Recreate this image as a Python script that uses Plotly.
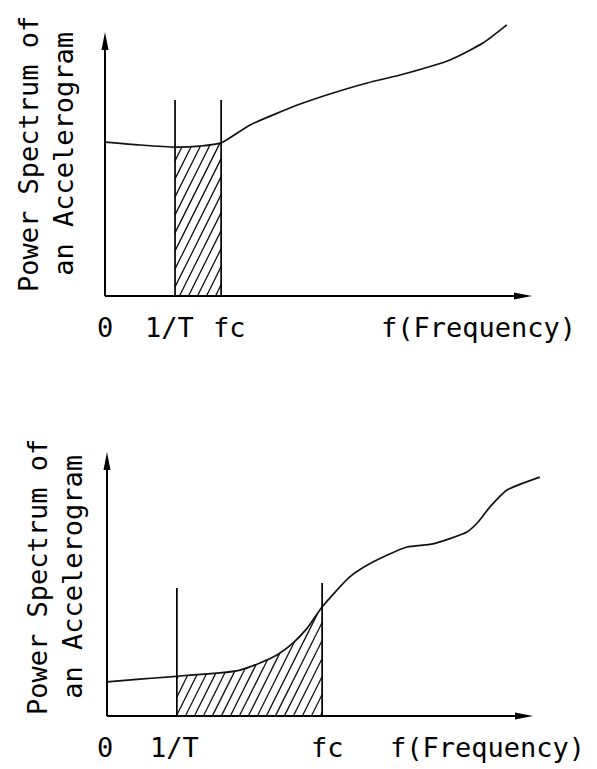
import numpy as np
import plotly.graph_objects as go

# ---------------- data ----------------
# Top panel: power spectrum (arbitrary units, frequency axis 0..100)
top_f = [0, 8.2, 16.4, 22.2, 27.2, 34.0, 45.7, 53.4, 61.4, 69.1, 80.8, 88.5, 94.1]
top_p = [58.3, 57.2, 56.4, 56.8, 58.0, 64.8, 72.7, 76.9, 80.7, 83.7, 89.4, 95.8, 102.7]
top_inv_T = 16.4
top_fc = 27.2
top_marker_heights = [74.2, 74.2]

# Bottom panel
bot_f = [0, 7.7, 14.8, 19.5, 26.5, 31.2, 35.9, 39.9, 43.7, 47.0, 50.5, 57.0, 62.4,
         70.4, 76.5, 84.5, 86.9, 89.9, 93.9, 101.6]
bot_p = [12.9, 14.0, 14.8, 15.5, 16.3, 17.4, 20.1, 23.1, 27.7, 33.3, 41.3, 52.7, 58.3,
         64.0, 65.2, 69.7, 73.1, 79.2, 85.6, 90.5]
bot_inv_T = 16.4
bot_fc = 50.5
bot_marker_heights = [48.5, 50.4]

axis_len = 100
tick_labels = ["0", "1/T", "fc"]
x_title = "f(Frequency)"
y_title = ["Power Spectrum of", "an Accelerogram"]

# ---------------- layout geometry (pixels, page coordinates) ----------------
OFF = 8                      # default body margin of the html page
W, H = 597 - OFF, 769 - OFF
FONT = dict(family="DejaVu Sans Mono", size=27, color="black")

panels = [
    dict(x0px=105, y0px=296, sx=4.27, sy=2.64, dom_px=(0, 400),
         f=top_f, p=top_p, a=top_inv_T, b=top_fc, mh=top_marker_heights,
         label_shift=[0, -6, 8], xt_px=478, yt_px=(46, 154)),
    dict(x0px=107, y0px=716, sx=4.26, sy=2.64, dom_px=(400, 769),
         f=bot_f, p=bot_p, a=bot_inv_T, b=bot_fc, mh=bot_marker_heights,
         label_shift=[-2, -2, 5], xt_px=487, yt_px=(55, 577)),
]

fig = go.Figure()
layout = dict(width=W, height=H, margin=dict(l=0, r=0, t=0, b=0), autosize=False,
              paper_bgcolor="white", plot_bgcolor="white", showlegend=False)
annotations = []
shapes = []

for i, P in enumerate(panels):
    xa = "x" if i == 0 else "x2"
    ya = "y" if i == 0 else "y2"
    xkey = "xaxis" if i == 0 else "xaxis2"
    ykey = "yaxis" if i == 0 else "yaxis2"
    top_px = max(P["dom_px"][0] - OFF, 0)
    bot_px = min(P["dom_px"][1] - OFF, H)
    x0 = P["x0px"] - OFF
    y0 = P["y0px"] - OFF
    sx, sy = P["sx"], P["sy"]
    xr = [-x0 / sx, (W - x0) / sx]
    yr = [(y0 - bot_px) / sy, (y0 - top_px) / sy]
    dom = [1 - bot_px / H, 1 - top_px / H]
    layout[xkey] = dict(range=xr, domain=[0, 1], visible=False, anchor=ya)
    layout[ykey] = dict(range=yr, domain=dom, visible=False, anchor=xa)

    f = np.array(P["f"], float)
    p = np.array(P["p"], float)
    a, b = P["a"], P["b"]

    # hatching lines (slope in pixel space = 2, spacing 9 px)
    k = 2.0 * sx / sy
    d = 9.0 / sx
    ymax = np.interp([a, b], f, p).max()
    hx, hy = [], []
    xs = np.linspace(a, b, 2000)
    cs = np.interp(xs, f, p)
    c = a - ymax / k
    while c < b:
        ys = k * (xs - c)
        m = (ys >= 0) & (ys <= cs)
        if m.sum() > 1:
            idx = np.where(m)[0]
            i0, i1 = idx[0], idx[-1]
            hx += [xs[i0], xs[i1], None]
            hy += [ys[i0], ys[i1], None]
        c += d
    fig.add_trace(go.Scatter(x=hx, y=hy, mode="lines", xaxis=xa, yaxis=ya,
                             line=dict(color="#111", width=1.3), hoverinfo="skip"))

    # spectrum curve
    fig.add_trace(go.Scatter(x=f, y=p, mode="lines", xaxis=xa, yaxis=ya,
                             line=dict(color="#111", width=1.7, shape="spline", smoothing=0.6)))

    # vertical markers at 1/T and fc
    vx = [a, a, None, b, b]
    vy = [0, P["mh"][0], None, 0, P["mh"][1]]
    fig.add_trace(go.Scatter(x=vx, y=vy, mode="lines", xaxis=xa, yaxis=ya,
                             line=dict(color="black", width=1.7), hoverinfo="skip"))

    # axes lines
    fig.add_trace(go.Scatter(x=[0, axis_len - 2, None, 0, 0], y=[0, 0, None, 0, axis_len - 4],
                             mode="lines", xaxis=xa, yaxis=ya,
                             line=dict(color="black", width=2), hoverinfo="skip"))
    # arrowheads (length 18 px, half-width 3.5 px)
    L, hw = 18, 3.5
    tipx = axis_len
    shapes.append(dict(type="path", xref=xa, yref=ya, fillcolor="black", line=dict(width=0),
                       path=f"M {tipx} 0 L {tipx - L/sx} {hw/sy} L {tipx - L/sx} {-hw/sy} Z"))
    tipy = axis_len
    shapes.append(dict(type="path", xref=xa, yref=ya, fillcolor="black", line=dict(width=0),
                       path=f"M 0 {tipy} L {hw/sx} {tipy - L/sy} L {-hw/sx} {tipy - L/sy} Z"))

    # tick labels
    for lab, xv, sh in zip(tick_labels, [0, a, b], P["label_shift"]):
        annotations.append(dict(text=lab, x=xv, y=0, xref=xa, yref=ya, showarrow=False,
                                xanchor="center", yanchor="top", yshift=-14, xshift=sh, font=FONT))
    annotations.append(dict(text=x_title, x=(P["xt_px"] - OFF) / W, y=0, xref="paper", yref=ya,
                            showarrow=False, xanchor="center", yanchor="top", yshift=-14, font=FONT))
    # y title
    annotations.append(dict(text="<br>".join(y_title), x=(P["yt_px"][0] - OFF) / W,
                            y=1 - (P["yt_px"][1] - OFF) / H,
                            xref="paper", yref="paper", showarrow=False, textangle=-90,
                            xanchor="center", yanchor="middle", font=FONT))

layout["annotations"] = annotations
layout["shapes"] = shapes
fig.update_layout(**layout)
fig.write_html("out.html")
